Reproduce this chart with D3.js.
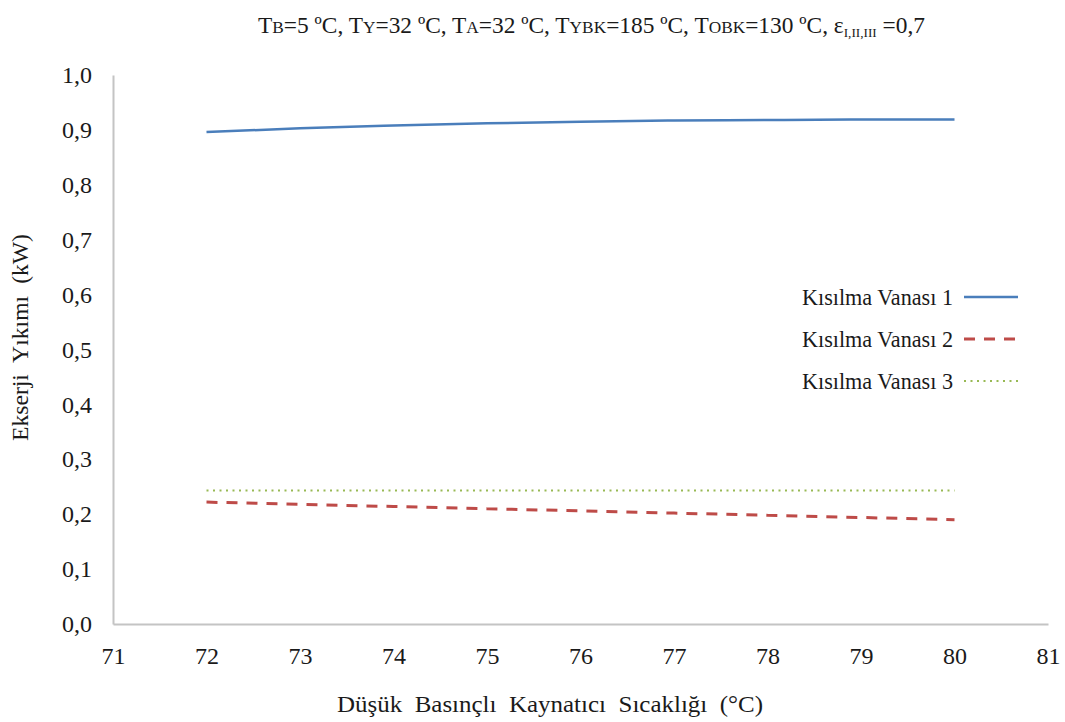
<!DOCTYPE html>
<html>
<head>
<meta charset="utf-8">
<script src="https://cdn.jsdelivr.net/npm/d3@7"></script>
<style>
  body { margin: 0; background: #fff; }
</style>
</head>
<body>
<div class="graph"></div>
<script>
// data
const temps = [72, 73, 74, 75, 76, 77, 78, 79, 80]
const vana1 = [0.896, 0.903, 0.908, 0.912, 0.915, 0.917, 0.918, 0.919, 0.919]
const vana2 = [0.222, 0.218, 0.214, 0.210, 0.206, 0.202, 0.198, 0.194, 0.190]
const vana3 = [0.243, 0.243, 0.243, 0.243, 0.243, 0.243, 0.243, 0.243, 0.243]
const seriesNames = ["Kısılma Vanası 1", "Kısılma Vanası 2", "Kısılma Vanası 3"]
const xTicks = [71, 72, 73, 74, 75, 76, 77, 78, 79, 80, 81]
const yTicks = [0, 0.1, 0.2, 0.3, 0.4, 0.5, 0.6, 0.7, 0.8, 0.9, 1.0]

const W = 1065, H = 722
const mLeft = 113, mRight = 1048, mTop = 75, mBottom = 624
const serif = "'Liberation Serif', 'Times New Roman', serif"

let svg = d3.select('.graph')
    .append('svg')
    .attr("width", W)
    .attr("height", H)

let x = d3.scaleLinear().domain([71, 81]).range([mLeft, mRight])
let y = d3.scaleLinear().domain([0, 1]).range([mBottom, mTop])

// axes
let comma = v => d3.format(".1f")(v).replace(".", ",")

let gx = svg.append("g")
    .attr("transform", `translate(0,${mBottom})`)
    .call(d3.axisBottom(x).tickValues(xTicks).tickSize(0).tickPadding(23).tickFormat(d3.format("d")))
let gy = svg.append("g")
    .attr("transform", `translate(${mLeft},0)`)
    .call(d3.axisLeft(y).tickValues(yTicks).tickSize(0).tickPadding(21).tickFormat(comma))

svg.selectAll(".domain").attr("stroke", "#c4c4c4").attr("stroke-width", 2)
svg.selectAll(".tick text").style("font-size", "24px")

// lines
let line = d3.line()
    .x((d, i) => x(temps[i]))
    .y(d => y(d))
    .curve(d3.curveMonotoneX)

const styles = [
  {color: "#4a7ebb", width: 2.5, dash: null},
  {color: "#be4b48", width: 3, dash: "11,9"},
  {color: "#98b954", width: 2, dash: "2,4.5"}
]
const series = [vana1, vana2, vana3]

series.forEach((s, k) => {
  svg.append("path")
    .datum(s)
    .attr("d", line)
    .attr("fill", "none")
    .attr("stroke", styles[k].color)
    .attr("stroke-width", styles[k].width)
    .attr("stroke-dasharray", styles[k].dash)
})

// legend
const legY = [297, 339, 381]
seriesNames.forEach((n, k) => {
  svg.append("text")
    .attr("x", 953)
    .attr("y", legY[k])
    .attr("dy", "0.35em")
    .attr("text-anchor", "end")
    .style("font-size", "23px")
    .attr("textLength", 151)
    .attr("lengthAdjust", "spacingAndGlyphs")
    .text(n)
  svg.append("line")
    .attr("x1", 964).attr("x2", 1018)
    .attr("y1", legY[k]).attr("y2", legY[k])
    .attr("stroke", styles[k].color)
    .attr("stroke-width", styles[k].width)
    .attr("stroke-dasharray", styles[k].dash)
})

// title
let title = svg.append("text")
    .attr("x", 258)
    .attr("y", 33)
    .style("font-size", "23px")
    .attr("textLength", 667)
    .attr("lengthAdjust", "spacingAndGlyphs")
const parts = [
  ["T", 0], ["B", 1], ["=5 ºC, T", 0], ["Y", 1], ["=32 ºC, T", 0], ["A", 1],
  ["=32 ºC, T", 0], ["YBK", 1], ["=185 ºC, T", 0], ["OBK", 1], ["=130 ºC, ε", 0],
  ["I,II,III", 2], [" =0,7", 0]
]
parts.forEach(p => {
  let t = title.append("tspan").text(p[0])
  if (p[1] == 1) t.style("font-size", "17px")
  if (p[1] == 2) t.style("font-size", "13px").attr("dy", 4)
  if (p[1] == 0 && p[0] == " =0,7") t.attr("dy", -4)
})

// axis titles
svg.append("text")
    .attr("transform", `translate(28,${337 + 104}) rotate(-90)`)
    .style("font-size", "23px")
    .attr("textLength", 207)
    .attr("lengthAdjust", "spacingAndGlyphs")
    .attr("word-spacing", 6)
    .text("Ekserji Yıkımı (kW)")

svg.append("text")
    .attr("x", 337)
    .attr("y", 712)
    .style("font-size", "24px")
    .attr("textLength", 426)
    .attr("lengthAdjust", "spacingAndGlyphs")
    .attr("word-spacing", 6)
    .text("Düşük Basınçlı Kaynatıcı Sıcaklığı (°C)")

// same serif face on every label
svg.selectAll("text")
    .style("font-family", serif)
    .attr("fill", "#1a1a1a")
</script>
</body>
</html>
